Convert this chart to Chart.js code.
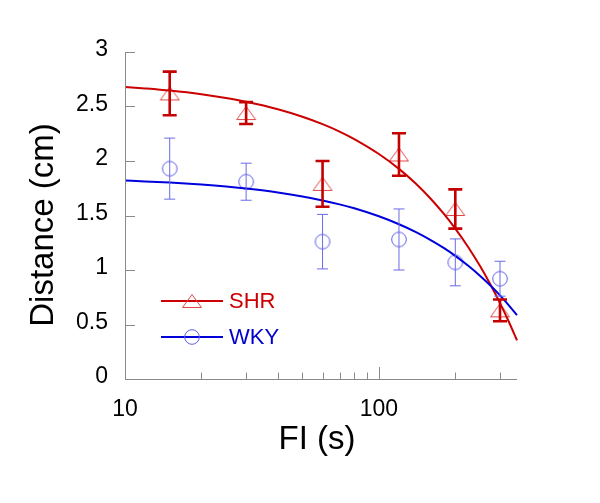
<!DOCTYPE html>
<html>
<head>
<meta charset="utf-8">
<script src="https://cdn.jsdelivr.net/npm/chart.js@4/dist/chart.umd.min.js"></script>
<style>
html,body{margin:0;padding:0;background:#fff;}
canvas{display:block;}
</style>
</head>
<body>
<canvas id="c" width="600" height="503"></canvas>
<script>
// ---- data ----
const fiValues = [15, 30, 60, 120, 200, 300];
const shrMean = [2.62, 2.44, 1.79, 2.06, 1.56, 0.63];
const shrErr  = [0.20, 0.10, 0.21, 0.195, 0.18, 0.10];
const wkyMean = [1.93, 1.81, 1.26, 1.28, 1.07, 0.92];
const wkyErr  = [0.28, 0.17, 0.25, 0.28, 0.215, 0.16];
const fitX   = [10, 12, 15, 20, 25, 30, 40, 50, 60, 70, 80, 100, 120, 140, 160, 180, 200, 225, 250, 275, 300, 325, 350];
const shrFit = [2.680, 2.666, 2.646, 2.612, 2.577, 2.543, 2.475, 2.406, 2.338, 2.270, 2.201, 2.064, 1.928, 1.791, 1.654, 1.517, 1.380, 1.209, 1.038, 0.867, 0.696, 0.525, 0.354];
const wkyFit = [1.820, 1.813, 1.802, 1.784, 1.766, 1.747, 1.711, 1.675, 1.638, 1.602, 1.566, 1.493, 1.420, 1.348, 1.275, 1.203, 1.130, 1.039, 0.948, 0.858, 0.767, 0.676, 0.585];
const yTicks = [0, 0.5, 1, 1.5, 2, 2.5, 3];
const yTickLabels = ['0', '0.5', '1', '1.5', '2', '2.5', '3'];
const xMajor = [10, 100];
const xMajorLabels = ['10', '100'];
const xMinor = [20, 30, 40, 50, 60, 70, 80, 90, 200, 300];
const seriesNames = ['SHR', 'WKY'];
const xTitle = 'FI (s)';
const yTitle = 'Distance (cm)';

const RED_LINE = '#cc0000', RED_BAR = '#c40000', RED_MARK = '#e04848', RED_TEXT = '#cc0000';
const BLUE_LINE = '#0000dd', BLUE_BAR = '#6a6ae6', BLUE_MARK = '#5f5fe6', BLUE_TEXT = '#0000cc';
const FONT = "'Liberation Sans', Arial, Helvetica, sans-serif";

function makeTriangle() {
  const c = document.createElement('canvas');
  c.width = 22; c.height = 16;
  const g = c.getContext('2d');
  g.strokeStyle = RED_MARK; g.lineWidth = 1;
  g.beginPath();
  g.moveTo(11, 1.5); g.lineTo(20.5, 14.5); g.lineTo(1.5, 14.5); g.closePath();
  g.stroke();
  return c;
}
function makeCircle() {
  const c = document.createElement('canvas');
  c.width = 18; c.height = 18;
  const g = c.getContext('2d');
  g.strokeStyle = BLUE_MARK; g.lineWidth = 1;
  g.beginPath(); g.arc(9, 9, 7.3, 0, Math.PI * 2); g.stroke();
  return c;
}
const triImg = makeTriangle();
const circImg = makeCircle();

const toPts = (xs, ys) => xs.map((x, i) => ({x: x, y: ys[i]}));

const decorPlugin = {
  id: 'decor',
  beforeDraw(chart) {
    const ctx = chart.ctx;
    ctx.save(); ctx.fillStyle = '#fff'; ctx.fillRect(0, 0, chart.width, chart.height); ctx.restore();
  },
  afterDatasetsDraw(chart) {
    const ctx = chart.ctx, xs = chart.scales.x, ys = chart.scales.y;
    function bars(means, errs, color, lw, half) {
      ctx.save();
      ctx.strokeStyle = color; ctx.lineWidth = lw; ctx.lineCap = 'butt';
      fiValues.forEach((fx, i) => {
        const px = xs.getPixelForValue(fx);
        const top = ys.getPixelForValue(means[i] + errs[i]);
        const bot = ys.getPixelForValue(means[i] - errs[i]);
        ctx.beginPath();
        ctx.moveTo(px, top); ctx.lineTo(px, bot);
        ctx.moveTo(px - half, top); ctx.lineTo(px + half, top);
        ctx.moveTo(px - half, bot); ctx.lineTo(px + half, bot);
        ctx.stroke();
      });
      ctx.restore();
    }
    bars(wkyMean, wkyErr, BLUE_BAR, 1, 5.5);
    bars(shrMean, shrErr, RED_BAR, 2.6, 7);
  },
  afterDraw(chart) {
    const ctx = chart.ctx, xs = chart.scales.x, ys = chart.scales.y;
    const a = chart.chartArea;
    ctx.save();
    // axes
    ctx.strokeStyle = '#8a8a8a'; ctx.lineWidth = 1;
    ctx.beginPath();
    ctx.moveTo(a.left + 0.5, a.top); ctx.lineTo(a.left + 0.5, a.bottom + 0.5);
    ctx.lineTo(a.right, a.bottom + 0.5);
    yTicks.forEach(v => {
      const py = Math.round(ys.getPixelForValue(v)) + 0.5;
      ctx.moveTo(a.left, py); ctx.lineTo(a.left + 10, py);
    });
    xMajor.forEach(v => {
      const px = Math.round(xs.getPixelForValue(v)) + 0.5;
      ctx.moveTo(px, a.bottom); ctx.lineTo(px, a.bottom - 12);
    });
    xMinor.forEach(v => {
      const px = Math.round(xs.getPixelForValue(v)) + 0.5;
      ctx.moveTo(px, a.bottom); ctx.lineTo(px, a.bottom - 6.5);
    });
    ctx.stroke();
    // tick labels
    ctx.fillStyle = '#000';
    ctx.font = '23px ' + FONT;
    ctx.textAlign = 'right'; ctx.textBaseline = 'alphabetic';
    yTicks.forEach((v, i) => {
      ctx.fillText(yTickLabels[i], 108, ys.getPixelForValue(v) + 4);
    });
    ctx.textAlign = 'center';
    xMajor.forEach((v, i) => {
      ctx.fillText(xMajorLabels[i], xs.getPixelForValue(v), 416);
    });
    // titles
    ctx.font = '33px ' + FONT;
    ctx.fillText(xTitle, 317, 449);
    ctx.save();
    ctx.translate(53, 225);
    ctx.rotate(-Math.PI / 2);
    ctx.textAlign = 'center';
    ctx.fillText(yTitle, 0, 0);
    ctx.restore();
    // legend
    const leg = [
      {y: 301, line: RED_LINE, img: triImg, text: RED_TEXT, name: seriesNames[0]},
      {y: 337, line: BLUE_LINE, img: circImg, text: BLUE_TEXT, name: seriesNames[1]}
    ];
    leg.forEach(l => {
      ctx.strokeStyle = l.line; ctx.lineWidth = 2;
      ctx.beginPath(); ctx.moveTo(161, l.y); ctx.lineTo(223, l.y); ctx.stroke();
      ctx.drawImage(l.img, 192 - l.img.width / 2, l.y - l.img.height / 2);
      ctx.fillStyle = l.text;
      ctx.font = '22px ' + FONT;
      ctx.textAlign = 'left'; ctx.textBaseline = 'middle';
      ctx.fillText(l.name, 229, l.y + 1);
    });
    ctx.restore();
  }
};

new Chart(document.getElementById('c'), {
  type: 'scatter',
  data: {
    datasets: [
      {label: 'WKY fit', data: toPts(fitX, wkyFit), showLine: true, borderColor: BLUE_LINE, borderWidth: 2,
       pointRadius: 0, cubicInterpolationMode: 'monotone', fill: false},
      {label: 'SHR fit', data: toPts(fitX, shrFit), showLine: true, borderColor: RED_LINE, borderWidth: 2,
       pointRadius: 0, cubicInterpolationMode: 'monotone', fill: false},
      {label: seriesNames[1], data: toPts(fiValues, wkyMean), showLine: false, pointStyle: circImg, pointRadius: 8},
      {label: seriesNames[0], data: toPts(fiValues, shrMean), showLine: false, pointStyle: triImg, pointRadius: 8}
    ]
  },
  options: {
    responsive: false,
    animation: false,
    clip: false,
    layout: {padding: {left: 125, right: 83, top: 52, bottom: 124}},
    plugins: {legend: {display: false}, tooltip: {enabled: false}},
    scales: {
      x: {type: 'logarithmic', min: 10, max: 350, display: false},
      y: {type: 'linear', min: 0, max: 3, display: false}
    }
  },
  plugins: [decorPlugin]
});
</script>
</body>
</html>
